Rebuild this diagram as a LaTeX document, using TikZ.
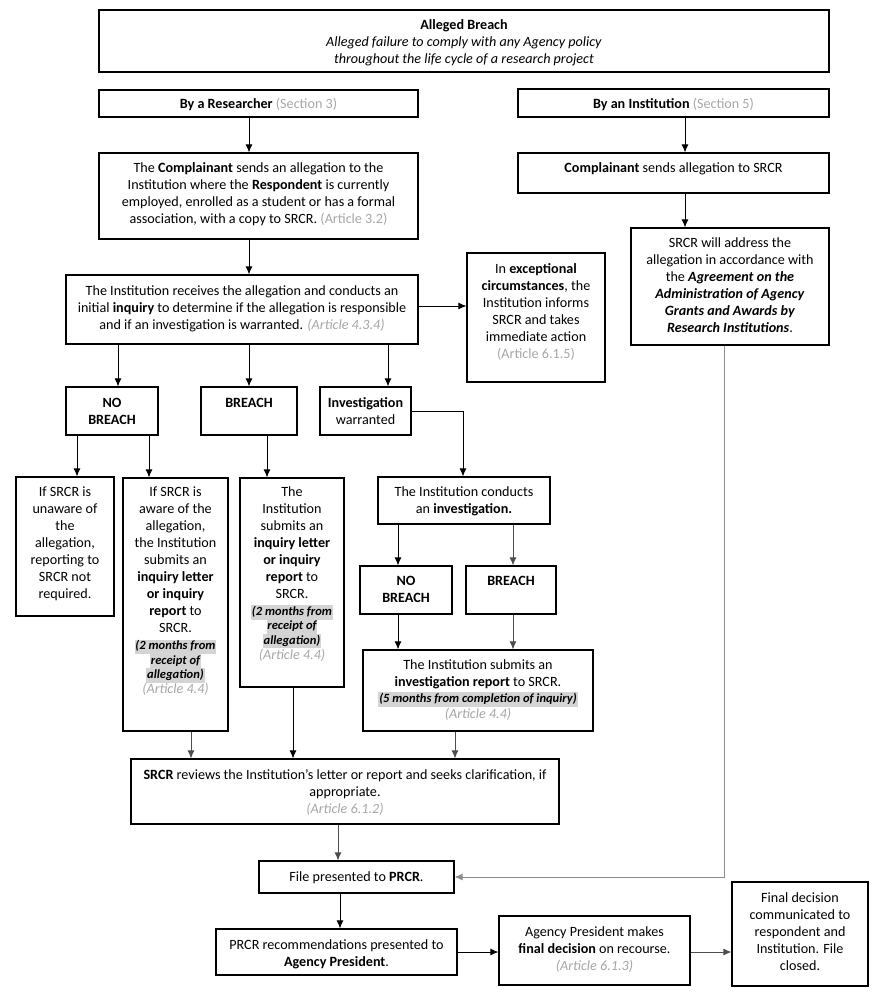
\documentclass[tikz,border=0pt]{standalone}
\usepackage{fontspec}
\setmainfont{Carlito}
\usetikzlibrary{arrows.meta,fit}
\definecolor{gr}{HTML}{A6A6A6}
\definecolor{hl}{HTML}{D4D4D4}
\definecolor{ln}{HTML}{8C8C8C}
\definecolor{dk}{HTML}{4D4D4D}
\newcommand\gt[1]{{\color{gr}#1}}
\newcommand\hlt[1]{{\fboxsep=0.6pt\colorbox{hl}{\fontsize{9.4}{10}\selectfont\bfseries\itshape\rule[-2.7pt]{0pt}{9.9pt}#1}}}
\tikzset{
  boxst/.style={draw, line width=0.8pt, inner sep=0pt, fit={#1}},
  txt/.style={align=center, inner sep=0pt, anchor=north, font=\fontsize{10.6}{12.8}\selectfont},
  arr/.style={-{Latex[length=6pt,width=5.2pt]}, line width=0.75pt},
}
% name, x1, y1, x2, y2, first baseline, text
\newcommand\bx[7]{%
  \node[boxst={(#2,#3) (#4,#5)}] (#1) {};
  \node[txt] (#1t) at (#1.north |- 0,#6-11.9) {\strut#7};
}
\begin{document}
\begin{tikzpicture}[x=0.75pt,y=-0.75pt]
\useasboundingbox (0,0) rectangle (881,1006);
\bx{b1}{99}{10}{829}{72}{29}{\textbf{Alleged Breach}\\\textit{Alleged failure to comply with any Agency policy}\\\textit{throughout the life cycle of a research project}}
\bx{b2}{99}{90}{418}{117}{108}{\textbf{By a Researcher} \gt{(Section 3)}}
\bx{b3}{518}{89}{829}{117}{108}{\textbf{By an Institution} \gt{(Section 5)}}
\bx{b4}{99}{153}{418}{239}{172}{The \textbf{Complainant} sends an allegation to the\\Institution where the \textbf{Respondent} is currently\\employed, enrolled as a student or has a formal\\association, with a copy to SRCR. \gt{(Article 3.2)}}
\bx{b5}{518}{153}{829}{193}{172}{\textbf{Complainant} sends allegation to SRCR}
\bx{b6}{631}{228}{829}{345}{247}{SRCR will address the\\allegation in accordance with\\the \textbf{\textit{Agreement on the}}\\\textbf{\textit{Administration of Agency}}\\\textbf{\textit{Grants and Awards by}}\\\textbf{\textit{Research Institutions}}.}
\bx{b7}{66}{275}{418}{344}{295}{The Institution receives the allegation and conducts an\\initial \textbf{inquiry} to determine if the allegation is responsible\\and if an investigation is warranted. \gt{\textit{(Article 4.3.4)}}}
\bx{b8}{467}{253}{605}{382}{273}{In \textbf{exceptional}\\\textbf{circumstances}, the\\Institution informs\\SRCR and takes\\immediate action\\\gt{(Article 6.1.5)}}
\bx{b9}{66}{387}{158}{435}{407}{\textbf{NO}\\\textbf{BREACH}}
\bx{b10}{201}{387}{297}{435}{407}{\textbf{BREACH}}
\bx{b11}{320}{387}{411}{435}{407}{\textbf{Investigation}\\warranted}
\bx{b12}{16}{477}{114}{616}{496}{If SRCR is\\unaware of\\the\\allegation,\\reporting to\\SRCR not\\required.}
\bx{b13}{123}{478}{228}{731}{496}{If SRCR is\\aware of the\\allegation,\\the Institution\\submits an\\\textbf{inquiry letter}\\\textbf{or inquiry}\\\textbf{report} to\\SRCR.\\\hlt{(2 months from}\\[-2.2pt]\hlt{receipt of}\\[-2.2pt]\hlt{allegation)}\\[-1pt]\gt{\textit{(Article 4.4)}}}
\bx{b14}{240}{478}{344}{687}{496}{The\\Institution\\submits an\\\textbf{inquiry letter}\\\textbf{or inquiry}\\\textbf{report} to\\SRCR.\\\hlt{(2 months from}\\[-2.2pt]\hlt{receipt of}\\[-2.2pt]\hlt{allegation)}\\[-1pt]\gt{\textit{(Article 4.4)}}}
\bx{b15}{378}{477}{550}{524}{496}{The Institution conducts\\an \textbf{investigation.}}
\bx{b16}{360}{566}{452}{614}{585}{\textbf{NO}\\\textbf{BREACH}}
\bx{b17}{466}{566}{556}{614}{585}{\textbf{BREACH}}
\bx{b18}{363}{650}{593}{731}{669}{The Institution submits an\\\textbf{investigation report} to SRCR.\\[-0.6pt]\hlt{(5 months from completion of inquiry)}\\[-0.6pt]\gt{\textit{(Article 4.4)}}}
\bx{b19}{131}{759}{559}{824}{779}{\textbf{SRCR} reviews the Institution’s letter or report and seeks clarification, if\\appropriate.\\\gt{\textit{(Article 6.1.2)}}}
\bx{b20}{259}{861}{454}{893}{881}{File presented to \textbf{PRCR}.}
\bx{b21}{216}{929}{457}{975}{949}{PRCR recommendations presented to\\\textbf{Agency President}.}
\bx{b22}{499}{916}{690}{985}{936}{Agency President makes\\\textbf{final decision} on recourse.\\\gt{\textit{(Article 6.1.3)}}}
\bx{b23}{732}{882}{868}{986}{902}{Final decision\\communicated to\\respondent and\\Institution. File\\closed.}
% connectors
\draw[arr] (b2.south -| 249,0) -- (b4.north -| 249,0);
\draw[arr] (b3.south -| 685,0) -- (b5.north -| 685,0);
\draw[arr] (b5.south -| 685,0) -- (b6.north -| 685,0);
\draw[arr] (b4.south -| 249,0) -- (b7.north -| 249,0);
\draw[arr] (b7.east |- 0,306) -- (b8.west |- 0,306);
\draw[arr] (b7.south -| 118,0) -- (b9.north -| 118,0);
\draw[arr] (b7.south -| 249,0) -- (b10.north -| 249,0);
\draw[arr] (b7.south -| 388,0) -- (b11.north -| 388,0);
\draw[arr] (b9.south -| 77,0) -- (b12.north -| 77,0);
\draw[arr] (b9.south -| 149,0) -- (b13.north -| 149,0);
\draw[arr] (b10.south -| 267,0) -- (b14.north -| 267,0);
\draw[arr] (b11.east |- 0,411) -| (b15.north -| 463,0);
\draw[arr] (b15.south -| 398,0) -- (b16.north -| 398,0);
\draw[arr,dk] (b15.south -| 513,0) -- (b17.north -| 513,0);
\draw[arr] (b16.south -| 398,0) -- (b18.north -| 398,0);
\draw[arr,dk] (b17.south -| 513,0) -- (b18.north -| 513,0);
\draw[arr,dk] (b13.south -| 191,0) -- (b19.north -| 191,0);
\draw[arr] (b14.south -| 293,0) -- (b19.north -| 293,0);
\draw[arr,dk] (b18.south -| 455,0) -- (b19.north -| 455,0);
\draw[arr,dk] (b19.south -| 338,0) -- (b20.north -| 338,0);
\draw[arr,ln] (b6.south -| 724,0) |- (b20.east);
\draw[arr] (b20.south -| 340,0) -- (b21.north -| 340,0);
\draw[arr] (b21.east |- 0,952) -- (b22.west |- 0,952);
\draw[arr,dk] (b22.east |- 0,952) -- (b23.west |- 0,952);
\end{tikzpicture}
\end{document}
